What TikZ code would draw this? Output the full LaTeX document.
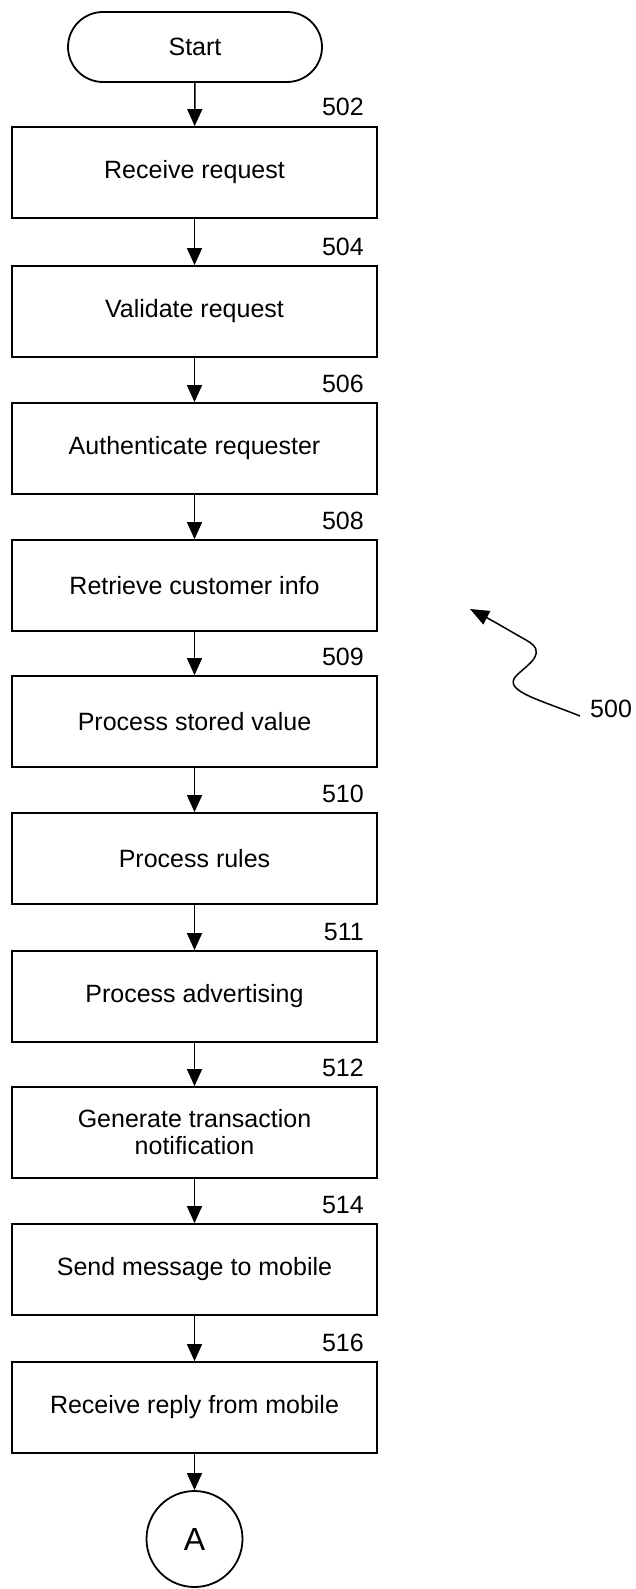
\documentclass[tikz,border=0pt]{standalone}
\usepackage{fontspec}
\setmainfont{Liberation Sans}
\usetikzlibrary{arrows.meta,shapes.misc}
\begin{document}
\begin{tikzpicture}[x=1pt,y=-1pt,
  every node/.style={font=\fontsize{25}{27}\selectfont},
  stepbox/.style={draw,line width=1.8pt,minimum width=365pt,minimum height=91pt,inner sep=0pt,align=center},
  lbl/.style={anchor=base east,inner sep=0pt},
  flow/.style={line width=1.5pt,-{Triangle[length=17pt,width=15pt]}}]
\useasboundingbox (0,0) rectangle (635,1589);
\node[draw,line width=1.8pt,rounded rectangle,minimum width=254pt,minimum height=70pt,inner sep=0pt] (start) at (195,47) {Start};
\node[stepbox] (b502) at (194.5,172.5) {Receive request};
\node[stepbox] (b504) at (194.5,311.5) {Validate request};
\node[stepbox] (b506) at (194.5,448.5) {Authenticate requester};
\node[stepbox] (b508) at (194.5,585.5) {Retrieve customer info};
\node[stepbox] (b509) at (194.5,721.5) {Process stored value};
\node[stepbox] (b510) at (194.5,858.5) {Process rules};
\node[stepbox] (b511) at (194.5,996.5) {Process advertising};
\node[stepbox] (b512) at (194.5,1132.5) {Generate transaction\\notification};
\node[stepbox] (b514) at (194.5,1269.5) {Send message to mobile};
\node[stepbox] (b516) at (194.5,1407.5) {Receive reply from mobile};
\node[draw,circle,line width=1.8pt,minimum size=96pt,inner sep=0pt,font=\fontsize{32}{34}\selectfont] (conA) at (194.5,1539) {A};
\node[lbl] (l502) at (364,116) {502};
\node[lbl] (l504) at (364,255) {504};
\node[lbl] (l506) at (364,392) {506};
\node[lbl] (l508) at (364,529) {508};
\node[lbl] (l509) at (364,665) {509};
\node[lbl] (l510) at (364,802) {510};
\node[lbl] (l511) at (364,940) {511};
\node[lbl] (l512) at (364,1076) {512};
\node[lbl] (l514) at (364,1213) {514};
\node[lbl] (l516) at (364,1351) {516};
\draw[flow] (start) -- (b502);
\draw[flow] (b502) -- (b504);
\draw[flow] (b504) -- (b506);
\draw[flow] (b506) -- (b508);
\draw[flow] (b508) -- (b509);
\draw[flow] (b509) -- (b510);
\draw[flow] (b510) -- (b511);
\draw[flow] (b511) -- (b512);
\draw[flow] (b512) -- (b514);
\draw[flow] (b514) -- (b516);
\draw[flow] (b516) -- (conA);
\node[anchor=base west,inner sep=0pt] (l500) at (590,717) {500};
\coordinate (sq0) at (580,716);
\coordinate (sq1) at (470,609);
\draw[line width=1.5pt,-{Triangle[length=19pt,width=15pt]}] (sq0) .. controls (535,698) and (500,690) .. (518,674) .. controls (530,663) and (548,652) .. (526,640) .. controls (510,631) and (495,622) .. (sq1);
\end{tikzpicture}
\end{document}
